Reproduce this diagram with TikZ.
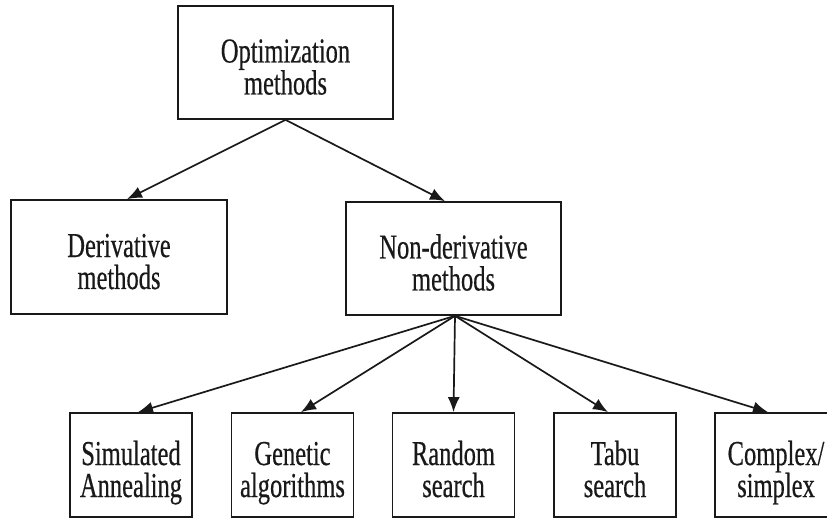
\documentclass[tikz,border=0pt]{standalone}
\usepackage{fontspec}
\setmainfont[FakeStretch=0.7,FakeBold=0.4]{Liberation Serif}
\usetikzlibrary{arrows.meta}
% two-line label: a fixed strut on top, the bottom line smashed,
% so every label sits the same way inside its box
\newcommand{\twolines}[2]{\rule{0pt}{32pt}#1\\\smash{#2}}
\begin{document}
\begin{tikzpicture}[x=1pt,y=1pt,
  box/.style={draw=black!90, line width=1.7pt, fill=white, inner sep=0pt,
    align=center, font=\fontsize{35}{32}\selectfont, text=black!90},
  bigbox/.style={box, minimum width=215pt, minimum height=113pt},
  leafbox/.style={box, minimum width=122pt, minimum height=104pt},
  link/.style={draw=black!90, line width=1.7pt,
    -{Latex[length=15pt,width=12pt]}}]
  \useasboundingbox (0,0) rectangle (827,520);
  \clip (0,0) rectangle (827,520);

  % top level
  \node[bigbox] (opt) at (285.5,457.5) {\twolines{Optimization}{methods}};

  % second level
  \node[bigbox, minimum width=216pt, minimum height=114pt] (der) at (119,263)
    {\twolines{Derivative}{methods}};
  \node[bigbox] (non) at (453.5,261.5) {\twolines{Non-derivative}{methods}};

  % leaves
  \node[leafbox] (sim) at (131,55)   {\twolines{Simulated}{Annealing}};
  \node[leafbox] (gen) at (292.5,55) {\twolines{Genetic}{algorithms}};
  \node[leafbox] (ran) at (453.5,55) {\twolines{Random}{search}};
  \node[leafbox] (tab) at (615,55)   {\twolines{Tabu}{search}};
  \node[leafbox] (com) at (776,55)   {\twolines{Complex/}{simplex}};

  % connectors
  \draw[link] (opt.south) -- ([xshift=8pt]der.north);
  \draw[link] (opt.south) -- ([xshift=-8.5pt]non.north);

  \draw[link] ([xshift=1.5pt]non.south) -- ([xshift=7pt]sim.north);
  \draw[link] ([xshift=1.5pt]non.south) -- ([xshift=8.5pt]gen.north);
  \draw[link] ([xshift=1.5pt]non.south) -- (ran.north);
  \draw[link] ([xshift=1.5pt]non.south) -- ([xshift=-7pt]tab.north);
  \draw[link] ([xshift=1.5pt]non.south) -- ([xshift=-8pt]com.north);
\end{tikzpicture}
\end{document}
